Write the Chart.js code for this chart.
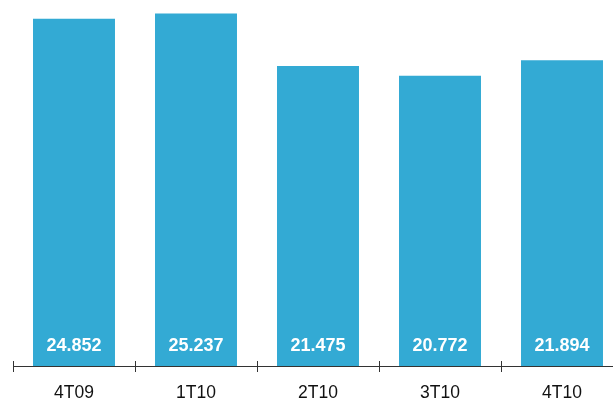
<!DOCTYPE html>
<html>
<head>
<meta charset="utf-8">
<script src="https://cdn.jsdelivr.net/npm/chart.js@4"></script>
<style>
  html, body { margin: 0; padding: 0; background: #fff; overflow: hidden; }
  #wrap { width: 630px; height: 400px; }
</style>
</head>
<body>
<div id="wrap"><canvas id="chart"></canvas></div>
<script>
const categories = ["4T09", "1T10", "2T10", "3T10", "4T10"];
const values = [24852, 25237, 21475, 20772, 21894];

const barColor = "#33aad4";

// value labels in white at the foot of each bar
const valueLabels = {
    id: "valueLabels",
    afterDatasetsDraw(chart) {
        const ctx = chart.ctx;
        const meta = chart.getDatasetMeta(0);
        ctx.save();
        ctx.fillStyle = "#ffffff";
        ctx.font = "bold 18px 'Liberation Sans', Arial, sans-serif";
        ctx.textAlign = "center";
        ctx.textBaseline = "middle";
        meta.data.forEach(function (bar, i) {
            let txt = values[i].toLocaleString("de-DE");
            ctx.fillText(txt, bar.x, bar.base - 19.5);
        });
        ctx.restore();
    }
};

// tick marks crossing the axis line, between categories
const axisTicks = {
    id: "axisTicks",
    afterDraw(chart) {
        const ctx = chart.ctx;
        const xs = chart.scales.x;
        const y = chart.chartArea.bottom;
        const n = categories.length;
        ctx.save();
        ctx.strokeStyle = "#333333";
        ctx.lineWidth = 1;
        ctx.beginPath();
        ctx.moveTo(xs.left, y + 0.5);
        ctx.lineTo(xs.right, y + 0.5);
        for (let i = 0; i <= n; i++) {
            let x = Math.round(xs.left + i * xs.width / n) + 0.5;
            ctx.moveTo(x, y - 5);
            ctx.lineTo(x, y + 6);
        }
        ctx.stroke();
        ctx.restore();
    }
};

new Chart(document.getElementById("chart"), {
    type: "bar",
    data: {
        labels: categories,
        datasets: [{
            data: values,
            backgroundColor: barColor,
            barPercentage: 0.672,
            categoryPercentage: 1
        }]
    },
    options: {
        responsive: true,
        maintainAspectRatio: false,
        animation: false,
        layout: { padding: { left: 13, right: 7, top: 0, bottom: 0 } },
        plugins: { legend: { display: false }, tooltip: { enabled: false } },
        scales: {
            x: {
                grid: { display: false },
                border: { display: false },
                afterFit: function (scale) { scale.height = 34; },
                ticks: {
                    color: "#111111",
                    padding: 9,
                    maxRotation: 0,
                    font: { size: 17.5, family: "'Liberation Sans', Arial, sans-serif" }
                }
            },
            y: {
                display: false,
                min: 0,
                max: 26200
            }
        }
    },
    plugins: [valueLabels, axisTicks]
});
</script>
</body>
</html>
